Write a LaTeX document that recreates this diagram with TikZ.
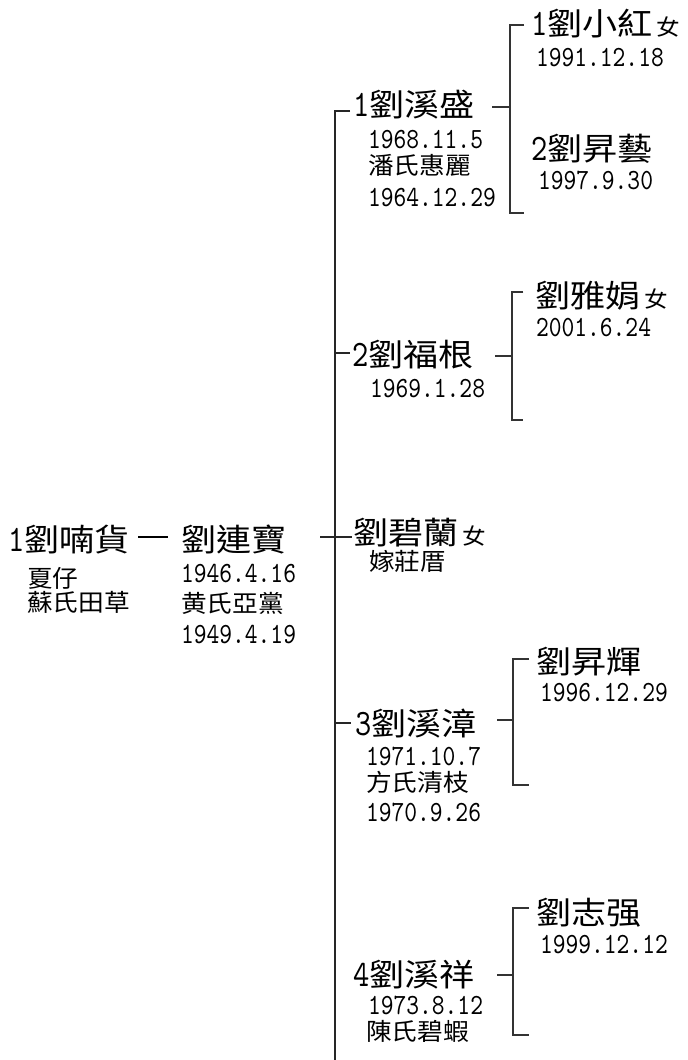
\documentclass[tikz,border=0pt]{standalone}
\usepackage{fontspec}
\newfontfamily\bigcjk{Noto Sans CJK TC}[FakeStretch=1.12]
\newfontfamily\smcjk{Noto Sans CJK TC}[FakeStretch=1.07]
\newfontfamily\datefont{lmmono10-regular.otf}[FakeStretch=0.83]
\usetikzlibrary{calc}
\newcommand\dg[1]{{\fontsize{28pt}{28pt}\datefont #1}}
\newcommand\fem{\hspace{3pt}{\fontsize{16.5pt}{16.5pt}\smcjk 女}}
\begin{document}
\begin{tikzpicture}[x=0.75pt,y=-0.75pt,
  every node/.style={inner sep=0pt, outer sep=0pt, anchor=base west, text depth=0pt},
  pname/.style={font=\fontsize{23.5pt}{23.5pt}\bigcjk, text height=17pt},
  kname/.style={font=\fontsize{23.5pt}{23.5pt}\bigcjk, text height=17pt},
  info/.style={font=\fontsize{18pt}{18pt}\smcjk, text height=13pt},
  datetxt/.style={font=\fontsize{22pt}{22pt}\datefont, text height=13pt},
  trunk/.style={line width=1.4pt, draw=black!85},
  brk/.style={line width=1.1pt, draw=black!80},
  bar/.style={line width=2pt, draw=black}
]
\useasboundingbox (0,0) rectangle (687,1060);
% root
\node[pname] (r0) at (8,551) {\dg{1}劉喃貨};
\node[info] (r0a) at (27,587) {夏仔};
\node[info] (r0b) at (27,611) {蘇氏田草};
\node[pname] (r1) at (181,551) {劉連寶};
\node[datetxt] (r1a) at (181,582) {1946.4.16};
\node[info] (r1b) at (181,612) {黄氏亞黨};
\node[datetxt] (r1c) at (181,643) {1949.4.19};
% level 2
\node[pname] (a1) at (353,116) {\dg{1}劉溪盛};
\node[datetxt] (a1a) at (368,148) {1968.11.5};
\node[info] (a1b) at (368,174) {潘氏惠麗};
\node[datetxt] (a1c) at (368,206) {1964.12.29};
\node[pname] (a2) at (352,366) {\dg{2}劉福根};
\node[datetxt] (a2a) at (370,397) {1969.1.28};
\node[pname] (a3) at (353,544) {劉碧蘭\fem};
\node[info] (a3a) at (369,570) {嫁莊厝};
\node[pname] (a4) at (355,735) {\dg{3}劉溪漳};
\node[datetxt] (a4a) at (366,765) {1971.10.7};
\node[info] (a4b) at (366,791) {方氏清枝};
\node[datetxt] (a4c) at (366,821) {1970.9.26};
\node[pname] (a5) at (353,986) {\dg{4}劉溪祥};
\node[datetxt] (a5a) at (368,1014) {1973.8.12};
\node[info] (a5b) at (366,1040) {陳氏碧蝦};
% level 3
\node[kname] (b1) at (531,36) {\dg{1}劉小紅\fem};
\node[datetxt] (b1a) at (536,66) {1991.12.18};
\node[kname] (b2) at (531,160) {\dg{2}劉昇藝};
\node[datetxt] (b2a) at (538,189) {1997.9.30};
\node[kname] (b3) at (535,307) {劉雅娟\fem};
\node[datetxt] (b3a) at (536,336) {2001.6.24};
\node[kname] (b4) at (536,673) {劉昇輝};
\node[datetxt] (b4a) at (540,701) {1996.12.29};
\node[kname] (b5) at (536,924) {劉志强};
\node[datetxt] (b5a) at (540,953) {1999.12.12};
% root connector
\coordinate (r0e) at (138,537); \coordinate (r1w) at (168,537);
\draw[bar] (r0e) -- (r1w);
% trunk
\coordinate (tTop) at (335,111); \coordinate (tBot) at (335,1060);
\coordinate (k1) at (350,111);
\coordinate (k2a) at (335,353); \coordinate (k2) at (350,353);
\coordinate (k3a) at (320,537); \coordinate (k3) at (352,537);
\coordinate (k4a) at (335,723); \coordinate (k4) at (351,723);
\draw[trunk] (k1) -- (tTop) -- (tBot);
\draw[trunk] (k2a) -- (k2);
\draw[trunk] (k3a) -- (k3);
\draw[trunk] (k4a) -- (k4);
% brackets
\coordinate (a1s) at (492,107); \coordinate (a1j) at (510,107);
\coordinate (a1t) at (510,25); \coordinate (a1b) at (510,213);
\draw[brk] (a1s) -- (a1j);
\draw[brk] ([xshift=10.5pt]a1t) -- (a1t) -- (a1b) -- ([xshift=10.5pt]a1b);
\coordinate (a2s) at (495,356); \coordinate (a2j) at (512,356);
\coordinate (a2t) at (512,292); \coordinate (a2b) at (512,420);
\draw[brk] (a2s) -- (a2j);
\draw[brk] ([xshift=8.5pt]a2t) -- (a2t) -- (a2b) -- ([xshift=8.5pt]a2b);
\coordinate (a4s) at (497,720); \coordinate (a4j) at (513,720);
\coordinate (a4t) at (513,659); \coordinate (a4b) at (513,785);
\draw[brk] (a4s) -- (a4j);
\draw[brk] ([xshift=12pt]a4t) -- (a4t) -- (a4b) -- ([xshift=12pt]a4b);
\coordinate (a5s) at (497,975); \coordinate (a5j) at (513,975);
\coordinate (a5t) at (513,908); \coordinate (a5b) at (513,1035);
\draw[brk] (a5s) -- (a5j);
\draw[brk] ([xshift=12pt]a5t) -- (a5t) -- (a5b) -- ([xshift=12pt]a5b);
\end{tikzpicture}
\end{document}
